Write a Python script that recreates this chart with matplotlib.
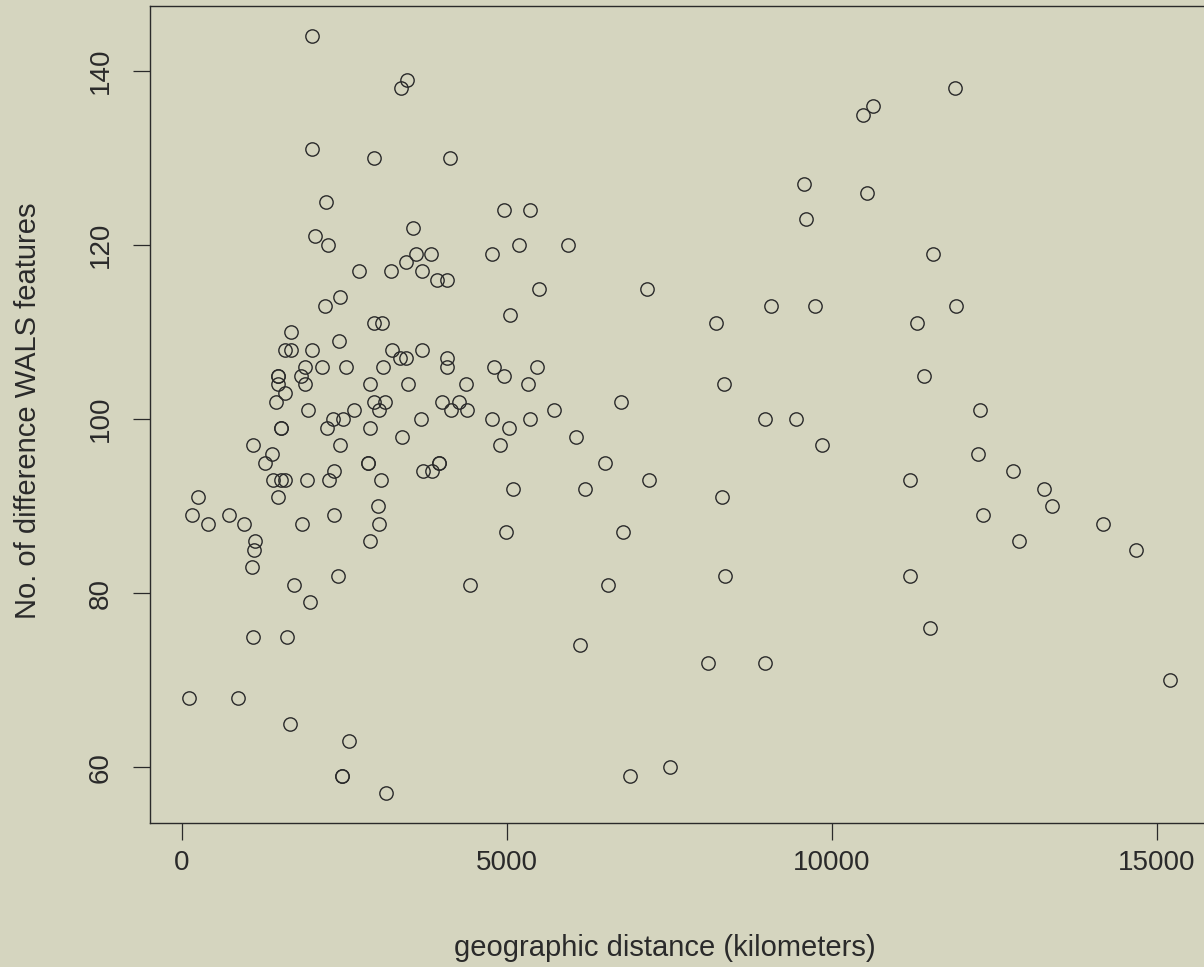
import matplotlib
matplotlib.use("Agg")
import matplotlib.pyplot as plt

# geographic distance (km) vs number of differing WALS features
distance_km = [
    2005, 3457, 3370, 2005, 2954, 4128, 2220, 4954, 3553, 2041,
    2241, 3605, 3836, 4775, 3451, 2729, 3215, 3693, 3928, 4077,
    2431, 2196, 2959, 3082, 5050, 1682, 2416, 1580, 1673, 2000,
    3235, 3697, 3359, 3441, 4072, 1472, 1472, 1898, 2154, 2524,
    3097, 4072, 4800, 1826, 4950, 1477, 1888, 2888, 3483, 4365,
    1580, 1447, 2959, 3123, 4000, 4261, 3025, 2646, 1938, 4139,
    4380, 2323, 2472, 3672, 4775, 5030, 1518, 1518, 2231, 2888,
    2431, 1087, 3380, 4892, 1389, 1272, 2857, 2857, 3958, 3958,
    3703, 3841, 1395, 1518, 1580, 1928, 2257, 2338, 3067, 5090,
    1482, 251, 3010, 153, 723, 2343, 400, 949, 1851, 3025,
    4990, 1128, 2892, 1107, 1082, 2401, 1718, 4431, 1970, 1097,
    1610, 112, 866, 1667, 2564, 2466, 2466, 3144,
    9565, 9595, 5354, 5190, 5944, 5493, 7149, 9066, 9744, 8220,
    5461, 5328, 8338, 6754, 5718, 5358, 8974, 9442, 6062, 9851,
    6508, 7190, 6200, 8312, 6785, 6554, 8349, 6124, 8092, 8969,
    7508, 6897,
    11893, 10636, 10473, 10539, 11560, 11913, 11313, 11411, 12282, 12246,
    11195, 12789, 13262, 13385, 12319, 12877, 14174, 14682, 11205, 11503,
    15205,
]
wals_diff = [
    144, 139, 138, 131, 130, 130, 125, 124, 122, 121,
    120, 119, 119, 119, 118, 117, 117, 117, 116, 116,
    114, 113, 111, 111, 112, 110, 109, 108, 108, 108,
    108, 108, 107, 107, 107, 105, 105, 106, 106, 106,
    106, 106, 106, 105, 105, 104, 104, 104, 104, 104,
    103, 102, 102, 102, 102, 102, 101, 101, 101, 101,
    101, 100, 100, 100, 100, 99, 99, 99, 99, 99,
    97, 97, 98, 97, 96, 95, 95, 95, 95, 95,
    94, 94, 93, 93, 93, 93, 93, 94, 93, 92,
    91, 91, 90, 89, 89, 89, 88, 88, 88, 88,
    87, 86, 86, 85, 83, 82, 81, 81, 79, 75,
    75, 68, 68, 65, 63, 59, 59, 57,
    127, 123, 124, 120, 120, 115, 115, 113, 113, 111,
    106, 104, 104, 102, 101, 100, 100, 100, 98, 97,
    95, 93, 92, 91, 87, 81, 82, 74, 72, 72,
    60, 59,
    138, 136, 135, 126, 119, 113, 111, 105, 101, 96,
    93, 94, 92, 90, 89, 86, 88, 85, 82, 76,
    70,
]

x_ticks = [0, 5000, 10000, 15000]
y_ticks = [60, 80, 100, 120, 140]

BG = "#d5d5bf"
INK = "#2a2a2a"

plt.rcParams["font.family"] = ["Liberation Sans", "DejaVu Sans"]

fig = plt.figure(figsize=(12.04, 9.67), dpi=100, facecolor=BG)
# plot region runs past the right edge of the picture (cropped R plot)
ax = fig.add_axes([150 / 1204, 1 - 823 / 967, 1059.6 / 1204, 817 / 967])
ax.set_facecolor(BG)

ax.plot(distance_km, wals_diff, linestyle="none", marker="o", ms=9.6,
        mfc="none", mec=INK, mew=1.0)

ax.set_xlim(-492, 15809)
ax.set_ylim(53.6, 147.47)

ax.set_xticks(x_ticks)
ax.set_yticks(y_ticks)
ax.set_xticklabels([str(v) for v in x_ticks])
ax.set_yticklabels([str(v) for v in y_ticks], rotation=90, va="center")
ax.tick_params(axis="both", direction="out", length=12.2, width=0.9,
               color=INK, labelcolor=INK, labelsize=20)
ax.tick_params(axis="x", pad=7)
ax.tick_params(axis="y", pad=14)

for side in ["left", "bottom", "top", "right"]:
    ax.spines[side].set_color(INK)
    ax.spines[side].set_linewidth(1.0)

ax.set_xlabel("geographic distance (kilometers)", fontsize=21, color=INK,
              va="center")
ax.xaxis.set_label_coords(0.486, -0.153)
ax.set_ylabel("No. of difference WALS features", fontsize=21, color=INK,
              va="center")
ax.yaxis.set_label_coords(-0.1151, 0.504)

fig.savefig("out.png", dpi=100, facecolor=BG)
